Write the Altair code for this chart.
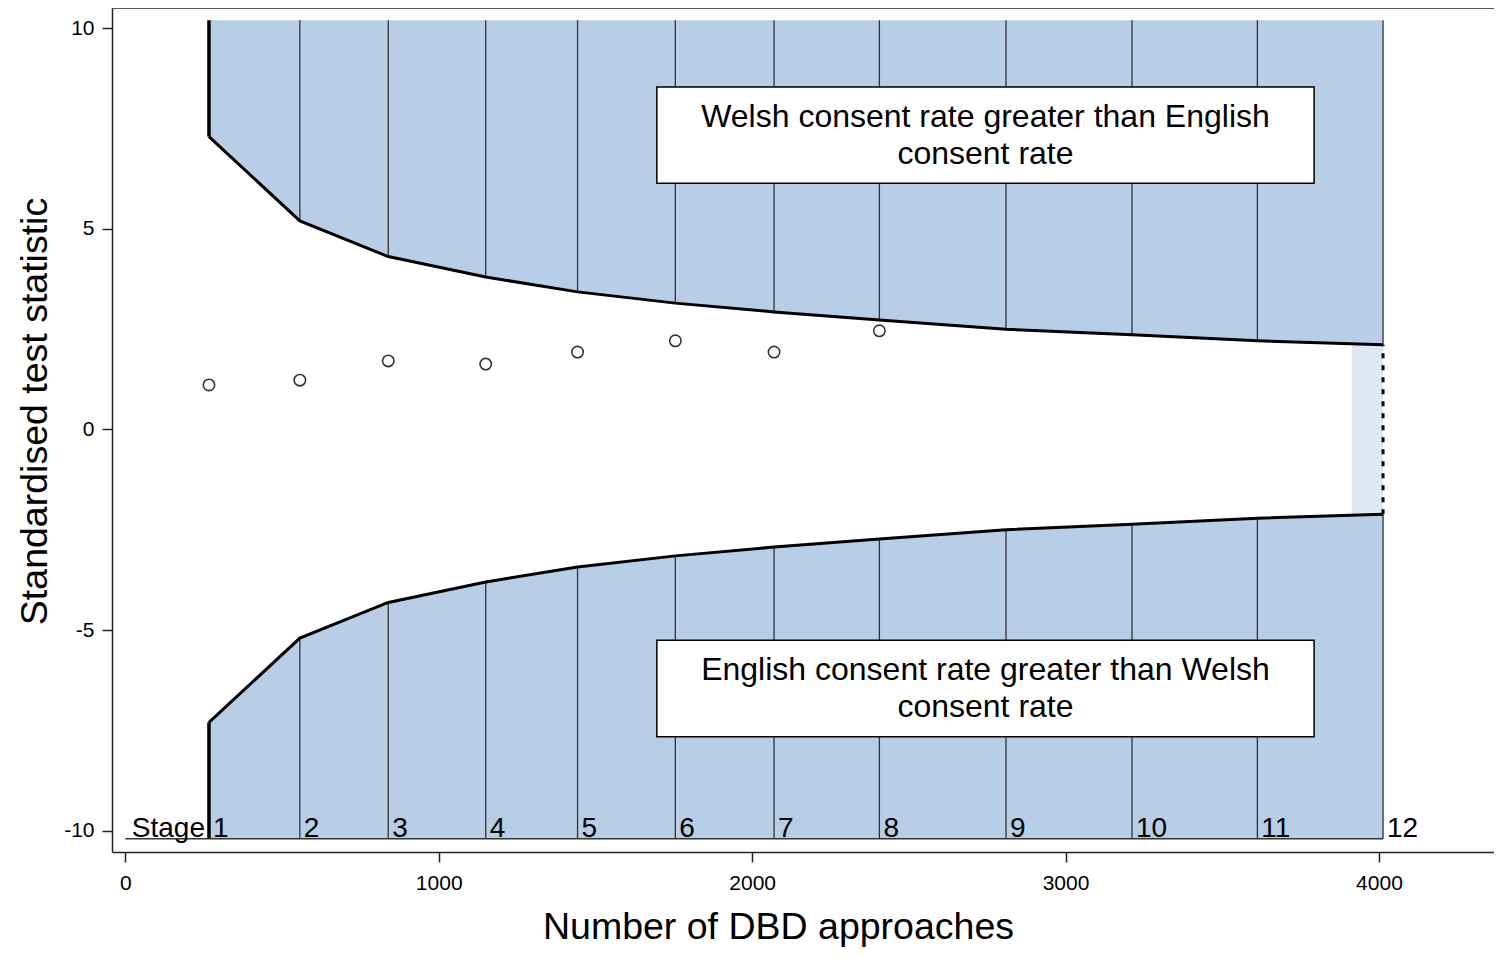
import altair as alt
import pandas as pd

# ---- data ----
stage_x = [267, 557, 839, 1150, 1443, 1755, 2070, 2406, 2810, 3212, 3612, 4013]
stage_labels = ["1", "2", "3", "4", "5", "6", "7", "8", "9", "10", "11", "12"]
upper_bound = [7.30, 5.20, 4.31, 3.80, 3.43, 3.15, 2.93, 2.73, 2.50, 2.36, 2.21, 2.11]
lower_bound = [-7.30, -5.20, -4.31, -3.80, -3.43, -3.15, -2.93, -2.73, -2.50, -2.36, -2.21, -2.11]
obs_x = [267, 557, 839, 1150, 1443, 1755, 2070, 2406]
obs_z = [1.11, 1.23, 1.71, 1.63, 1.93, 2.21, 1.93, 2.46]
fill_top = 10.2
fill_bottom = -10.2
band_x = [3913, 4013]
box_labels = ["Welsh consent rate greater than English\nconsent rate",
              "English consent rate greater than Welsh\nconsent rate"]
box_x = [1696, 3793]
box_y_upper = [8.54, 6.14]
box_y_lower = [-5.25, -7.66]

FONT = "Liberation Sans"
W, H = 1382, 844
FILL = "#b8cde6"
LABEL_EXPR = "datum.value < 0 ? '-' + abs(datum.value) : '' + datum.value"

xscale = alt.Scale(domain=[-42.4, 4367], nice=False, zero=False)
yscale = alt.Scale(domain=[-10.531, 10.506], nice=False, zero=False)
xaxis = alt.Axis(values=[0, 1000, 2000, 3000, 4000], title="Number of DBD approaches",
                 labelExpr=LABEL_EXPR,
                 grid=False, domainColor="#222", domainWidth=1.5, tickColor="#222",
                 tickWidth=1.5, tickSize=10, labelFont=FONT, labelFontSize=21,
                 labelColor="black", labelPadding=10, titleFont=FONT, titleFontSize=37.5,
                 titleFontWeight="normal", titleColor="black", titleX=666, titleY=86,
                 titleBaseline="alphabetic", titleAlign="center", labelFlush=False)
yaxis = alt.Axis(values=[-10, -5, 0, 5, 10], title="Standardised test statistic",
                 labelExpr=LABEL_EXPR,
                 grid=False, domainColor="#222", domainWidth=1.5, tickColor="#222",
                 tickWidth=1.5, tickSize=10, labelFont=FONT, labelFontSize=21,
                 labelColor="black", labelPadding=8, titleFont=FONT, titleFontSize=37.5,
                 titleFontWeight="normal", titleColor="black", titleX=-66, titleY=403,
                 titleAngle=270, titleBaseline="alphabetic", titleAlign="center",
                 labelFlush=False)


def X(f):
    return alt.X(f, type="quantitative", scale=xscale, axis=xaxis)


def Y(f):
    return alt.Y(f, type="quantitative", scale=yscale, axis=yaxis)


bounds = pd.DataFrame({"x": stage_x, "up": upper_bound, "lo": lower_bound,
                       "top": [fill_top] * 12, "bot": [fill_bottom] * 12,
                       "lab": stage_labels})
obs = pd.DataFrame({"x": obs_x, "z": obs_z})
band = pd.DataFrame({"x": [band_x[0]], "x2": [band_x[1]],
                     "y": [lower_bound[-1]], "y2": [upper_bound[-1]]})
boxes = pd.DataFrame({"x": [box_x[0]] * 2, "x2": [box_x[1]] * 2,
                      "y": [box_y_upper[0], box_y_lower[0]],
                      "y2": [box_y_upper[1], box_y_lower[1]],
                      "xc": [(box_x[0] + box_x[1]) / 2] * 2,
                      "yc": [(box_y_upper[0] + box_y_upper[1]) / 2,
                             (box_y_lower[0] + box_y_lower[1]) / 2],
                      "lab": box_labels})
baseline = pd.DataFrame({"x": [0], "x2": [stage_x[-1]], "y": [fill_bottom]})
stage_word = pd.DataFrame({"x": [stage_x[0]], "y": [fill_bottom], "lab": ["Stage"]})

base = alt.Chart(bounds)

upper_area = base.mark_area(color=FILL, opacity=1).encode(x=X("x"), y=Y("up"), y2="top")
lower_area = base.mark_area(color=FILL, opacity=1).encode(x=X("x"), y=Y("lo"), y2="bot")
band_rect = alt.Chart(band).mark_rect(color="#dee8f3").encode(x=X("x"), x2="x2", y=Y("y"), y2="y2")

inner = alt.Chart(bounds.iloc[1:])
rules_up = inner.mark_rule(color="#333", strokeWidth=1.3).encode(x=X("x"), y=Y("up"), y2="top")
rules_lo = inner.mark_rule(color="#333", strokeWidth=1.3).encode(x=X("x"), y=Y("lo"), y2="bot")
first = alt.Chart(bounds.iloc[:1])
first_up = first.mark_rule(color="black", strokeWidth=3.5).encode(x=X("x"), y=Y("up"), y2="top")
first_lo = first.mark_rule(color="black", strokeWidth=3.5).encode(x=X("x"), y=Y("lo"), y2="bot")

line_up = base.mark_line(color="black", strokeWidth=3).encode(x=X("x"), y=Y("up"))
line_lo = base.mark_line(color="black", strokeWidth=3).encode(x=X("x"), y=Y("lo"))

last = alt.Chart(bounds.iloc[-1:])
dotted = last.mark_rule(color="black", strokeWidth=3, strokeDash=[5, 7]).encode(
    x=X("x"), y=Y("lo"), y2="up")

bottom_line = alt.Chart(baseline).mark_rule(color="#333", strokeWidth=1.5).encode(
    x=X("x"), x2="x2", y=Y("y"))

top_frame = alt.Chart(baseline).mark_rule(color="#222", strokeWidth=1.5).encode(
    x=alt.value(0), x2=alt.value(W), y=alt.value(0))

box_rect = alt.Chart(boxes).mark_rect(fill="white", stroke="black", strokeWidth=1.5).encode(
    x=X("x"), x2="x2", y=Y("y"), y2="y2")
box_text = alt.Chart(boxes).mark_text(font=FONT, fontSize=32, color="black",
                                      lineBreak="\n", lineHeight=37, dy=-18,
                                      align="center", baseline="middle").encode(
    x=X("xc"), y=Y("yc"), text="lab:N")

stage_text = base.mark_text(font=FONT, fontSize=28, color="black", align="left",
                            baseline="alphabetic", dx=4, dy=-2).encode(
    x=X("x"), y=Y("bot"), text="lab:N")
stage_word_text = alt.Chart(stage_word).mark_text(font=FONT, fontSize=28, color="black",
                                                  align="right", baseline="alphabetic",
                                                  dx=-4, dy=-2).encode(
    x=X("x"), y=Y("y"), text="lab:N")

points = alt.Chart(obs).mark_point(shape="circle", filled=False, color="#333",
                                   size=130, strokeWidth=1.6, opacity=1).encode(
    x=X("x"), y=Y("z"))

chart = alt.layer(
    upper_area, lower_area, band_rect, rules_up, rules_lo, first_up, first_lo,
    line_up, line_lo, dotted, bottom_line, top_frame, box_rect, box_text,
    stage_text, stage_word_text, points
).properties(
    width=W, height=H,
    autosize=alt.AutoSizeParams(type="none"),
    padding={"left": 104, "top": 0, "right": 0, "bottom": 96},
    background="white",
).configure_view(stroke=None)

chart.save("out.html", embed_options={"renderer": "svg", "actions": False})
